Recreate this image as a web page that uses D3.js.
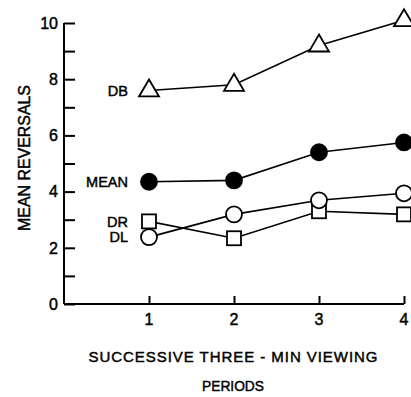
<!DOCTYPE html>
<html><head><meta charset="utf-8">
<script src="https://cdn.jsdelivr.net/npm/d3@7"></script>
<style>body{margin:0;background:#fff}svg{display:block}text{font-family:"Liberation Sans",Arial,sans-serif;fill:#000;stroke:#000;stroke-width:0.45px}</style>
</head><body>
<script>
const periods = [1, 2, 3, 4];
const DB = [7.6, 7.8, 9.2, 10.1];
const MEAN = [4.35, 4.4, 5.4, 5.75];
const DR = [2.94, 2.34, 3.3, 3.19];
const DL = [2.38, 3.19, 3.69, 3.94];
const yTickLabels = [0, 2, 4, 6, 8, 10];
const xTickLabels = ["1", "2", "3", "4"];

const W = 411, H = 397;
const svg = d3.select("body").append("svg").attr("width", W).attr("height", H);
const x = d3.scaleLinear().domain([0, 4]).range([64, 404]);
const y = d3.scaleLinear().domain([0, 10]).range([304, 23]);

// y axis
const yAxis = svg.append("g").attr("transform", `translate(${x(0)},0)`)
  .call(d3.axisRight(y).tickValues(d3.range(0, 11)).tickSize(11).tickFormat(""));
yAxis.select(".domain").attr("d", `M0,${y(10)}V${y(0)}`).attr("stroke-width", 2);
yAxis.selectAll(".tick line").attr("stroke-width", 2);
yAxis.selectAll("text").remove();
svg.append("g").selectAll("text").data(yTickLabels).join("text")
  .attr("x", 58).attr("y", d => y(d)).attr("dy", "0.36em").attr("text-anchor", "end")
  .attr("font-size", 16).text(d => d);

// x axis
const xAxis = svg.append("g").attr("transform", `translate(0,${y(0)})`)
  .call(d3.axisTop(x).tickValues(periods).tickSize(8).tickFormat(""));
xAxis.select(".domain").attr("d", `M${x(0)},0H${x(4)}`).attr("stroke-width", 2);
xAxis.selectAll(".tick line").attr("stroke-width", 2);
svg.append("g").selectAll("text").data(periods).join("text")
  .attr("x", d => x(d)).attr("y", y(0) + 21).attr("text-anchor", "middle")
  .attr("font-size", 16).text((d, i) => xTickLabels[i]);

// axis titles
svg.append("text").attr("transform", `translate(30,158) rotate(-90)`)
  .attr("text-anchor", "middle").attr("font-size", 16).attr("textLength", 146)
  .attr("lengthAdjust", "spacingAndGlyphs")
  .text("MEAN REVERSALS");
svg.append("text").attr("x", 233).attr("y", 362).attr("text-anchor", "middle")
  .attr("font-size", 15).attr("textLength", 289).attr("lengthAdjust", "spacing")
  .text("SUCCESSIVE  THREE - MIN  VIEWING");
svg.append("text").attr("x", 233).attr("y", 391).attr("text-anchor", "middle")
  .attr("font-size", 15).attr("textLength", 62).attr("lengthAdjust", "spacingAndGlyphs").text("PERIODS");

const line = d3.line().x((d, i) => x(periods[i])).y(d => y(d));
const series = [
  {name: "DB", vals: DB, shape: "tri", fill: "#fff"},
  {name: "MEAN", vals: MEAN, shape: "circle", fill: "#000"},
  {name: "DR", vals: DR, shape: "square", fill: "#fff"},
  {name: "DL", vals: DL, shape: "circle", fill: "#fff"}
];
series.forEach(s => {
  svg.append("path").attr("d", line(s.vals)).attr("fill", "none")
    .attr("stroke", "#000").attr("stroke-width", 1.6);
});
series.forEach(s => {
  const g = svg.append("g");
  s.vals.forEach((v, i) => {
    const cx = x(periods[i]), cy = y(v);
    if (s.shape === "circle") {
      g.append("circle").attr("cx", cx).attr("cy", cy).attr("r", 8)
        .attr("fill", s.fill).attr("stroke", "#000").attr("stroke-width", 1.8);
    } else if (s.shape === "square") {
      g.append("rect").attr("x", cx - 7).attr("y", cy - 7).attr("width", 14).attr("height", 14)
        .attr("fill", s.fill).attr("stroke", "#000").attr("stroke-width", 1.8);
    } else {
      g.append("path").attr("d", `M${cx},${cy - 11}L${cx + 10},${cy + 6}L${cx - 10},${cy + 6}Z`)
        .attr("fill", s.fill).attr("stroke", "#000").attr("stroke-width", 1.8);
    }
  });
});
// series labels
const labelPos = [
  {t: "DB", v: DB[0]},
  {t: "MEAN", v: MEAN[0]},
  {t: "DR", v: DR[0]},
  {t: "DL", v: DL[0]}
];
svg.append("g").selectAll("text").data(labelPos).join("text")
  .attr("x", 128).attr("y", d => y(d.v)).attr("dy", "0.36em").attr("text-anchor", "end")
  .attr("font-size", 14.5).text(d => d.t);
</script>
</body></html>
